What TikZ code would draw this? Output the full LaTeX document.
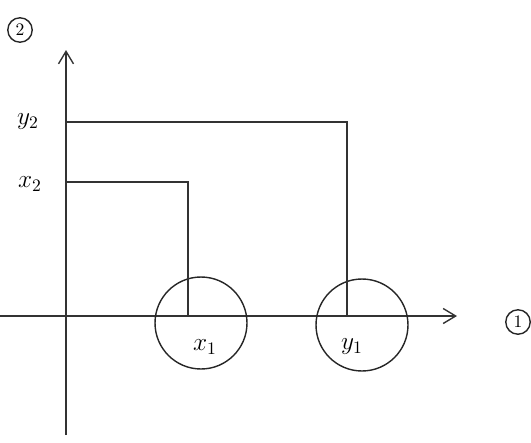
\documentclass[tikz,border=0pt]{standalone}
\usetikzlibrary{arrows.meta, positioning, calc}
\begin{document}
\begin{tikzpicture}[x=0.02cm, y=-0.02cm, font=\Large]

\tikzset{
  axis/.style={-{Straight Barb[length=2.5mm, width=3mm]}, thick, black!80},
  guide/.style={thick, black!80},
  blob/.style={circle, draw=black!85, thick, minimum size=1.84cm, inner sep=0pt},
  tag/.style={circle, draw=black!85, thick, inner sep=2pt, font=\normalsize}
}

\useasboundingbox (0,0) rectangle (531,443);

%axes
\coordinate (vbot) at (66,435);
\coordinate (vtop) at (66,50);
\coordinate (hleft) at (0,316);
\coordinate (hright) at (457,316);
\draw[axis] (vbot) -- (vtop);
\draw[axis] (hleft) -- (hright);
\node[tag] (t2) at (20,30) {2};
\node[tag] (t1) at (518,322) {1};

%circles
\node[blob] (x1) at (201,323) {};
\node[blob] (y1) at (362,325) {};
\node (x1t) at (205,347) {$x_1$};
\node (y1t) at (352,347) {$y_1$};

%guides
\node (y2t) at (28,122) {$y_2$};
\node (x2t) at (30,184) {$x_2$};
\coordinate (y2a) at (66,122);
\coordinate (y2b) at (347,122);
\coordinate (y2c) at (347,316);
\coordinate (x2a) at (66,182);
\coordinate (x2b) at (188,182);
\coordinate (x2c) at (188,316);
\draw[guide] (y2a) -- (y2b) -- (y2c);
\draw[guide] (x2a) -- (x2b) -- (x2c);
\end{tikzpicture}
\end{document}
